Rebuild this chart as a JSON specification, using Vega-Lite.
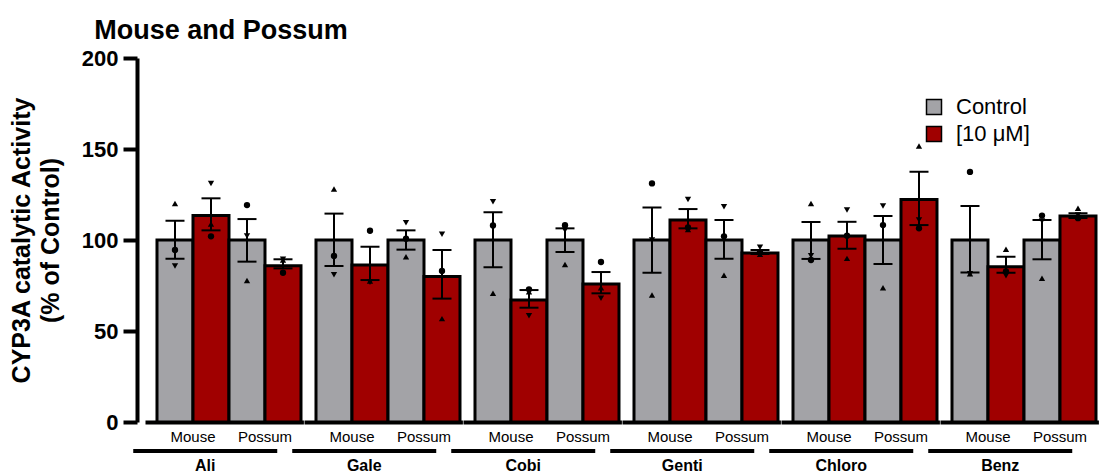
{
  "$schema": "https://vega.github.io/schema/vega-lite/v6.json",
  "background": "white",
  "padding": {"left": 9, "top": 17, "right": 0, "bottom": 0},
  "bounds": "flush",
  "spacing": 0,
  "title": {"text": "Mouse and Possum", "anchor": "start", "frame": "bounds", "dx": 85, "offset": 2, "font": "Liberation Sans", "fontSize": 27, "fontWeight": "bold", "color": "black"},
  "data": {"values": [
    {"kind": "bar", "drug": "Ali", "species": "Mouse", "treatment": "Control", "mean": 100, "lo": 89.7, "hi": 110.6},
    {"kind": "bar", "drug": "Ali", "species": "Mouse", "treatment": "[10 μM]", "mean": 113.4, "lo": 105.3, "hi": 122.9},
    {"kind": "bar", "drug": "Ali", "species": "Possum", "treatment": "Control", "mean": 100, "lo": 88.1, "hi": 111.5},
    {"kind": "bar", "drug": "Ali", "species": "Possum", "treatment": "[10 μM]", "mean": 85.9, "lo": 84.4, "hi": 89.4},
    {"kind": "bar", "drug": "Gale", "species": "Mouse", "treatment": "Control", "mean": 100, "lo": 85.7, "hi": 114.5},
    {"kind": "bar", "drug": "Gale", "species": "Mouse", "treatment": "[10 μM]", "mean": 86.3, "lo": 78, "hi": 96.3},
    {"kind": "bar", "drug": "Gale", "species": "Possum", "treatment": "Control", "mean": 100, "lo": 94.7, "hi": 105.3},
    {"kind": "bar", "drug": "Gale", "species": "Possum", "treatment": "[10 μM]", "mean": 79.9, "lo": 67.8, "hi": 94.5},
    {"kind": "bar", "drug": "Cobi", "species": "Mouse", "treatment": "Control", "mean": 100, "lo": 85, "hi": 115.2},
    {"kind": "bar", "drug": "Cobi", "species": "Mouse", "treatment": "[10 μM]", "mean": 67, "lo": 62.8, "hi": 72.5},
    {"kind": "bar", "drug": "Cobi", "species": "Possum", "treatment": "Control", "mean": 100, "lo": 93.4, "hi": 106.4},
    {"kind": "bar", "drug": "Cobi", "species": "Possum", "treatment": "[10 μM]", "mean": 75.8, "lo": 70.7, "hi": 82.4},
    {"kind": "bar", "drug": "Genti", "species": "Mouse", "treatment": "Control", "mean": 100, "lo": 82, "hi": 117.8},
    {"kind": "bar", "drug": "Genti", "species": "Mouse", "treatment": "[10 μM]", "mean": 111, "lo": 106.4, "hi": 117},
    {"kind": "bar", "drug": "Genti", "species": "Possum", "treatment": "Control", "mean": 100, "lo": 89.7, "hi": 111},
    {"kind": "bar", "drug": "Genti", "species": "Possum", "treatment": "[10 μM]", "mean": 92.9, "lo": 92.3, "hi": 94.5},
    {"kind": "bar", "drug": "Chloro", "species": "Mouse", "treatment": "Control", "mean": 100, "lo": 89.6, "hi": 109.9},
    {"kind": "bar", "drug": "Chloro", "species": "Mouse", "treatment": "[10 μM]", "mean": 102.2, "lo": 95.2, "hi": 110},
    {"kind": "bar", "drug": "Chloro", "species": "Possum", "treatment": "Control", "mean": 100, "lo": 86.8, "hi": 113.2},
    {"kind": "bar", "drug": "Chloro", "species": "Possum", "treatment": "[10 μM]", "mean": 122.3, "lo": 108.2, "hi": 137.5},
    {"kind": "bar", "drug": "Benz", "species": "Mouse", "treatment": "Control", "mean": 100, "lo": 82.2, "hi": 118.7},
    {"kind": "bar", "drug": "Benz", "species": "Mouse", "treatment": "[10 μM]", "mean": 85.3, "lo": 82, "hi": 90.8},
    {"kind": "bar", "drug": "Benz", "species": "Possum", "treatment": "Control", "mean": 100, "lo": 89.4, "hi": 111},
    {"kind": "bar", "drug": "Benz", "species": "Possum", "treatment": "[10 μM]", "mean": 113.2, "lo": 112.1, "hi": 114.7},

    {"kind": "point", "drug": "Ali", "species": "Mouse", "treatment": "Control", "rep": 1, "value": 94.5},
    {"kind": "point", "drug": "Ali", "species": "Mouse", "treatment": "Control", "rep": 2, "value": 120},
    {"kind": "point", "drug": "Ali", "species": "Mouse", "treatment": "Control", "rep": 3, "value": 85.7},
    {"kind": "point", "drug": "Ali", "species": "Mouse", "treatment": "[10 μM]", "rep": 1, "value": 102},
    {"kind": "point", "drug": "Ali", "species": "Mouse", "treatment": "[10 μM]", "rep": 2, "value": 108.8},
    {"kind": "point", "drug": "Ali", "species": "Mouse", "treatment": "[10 μM]", "rep": 3, "value": 131.1},
    {"kind": "point", "drug": "Ali", "species": "Possum", "treatment": "Control", "rep": 1, "value": 119.2},
    {"kind": "point", "drug": "Ali", "species": "Possum", "treatment": "Control", "rep": 2, "value": 77.8},
    {"kind": "point", "drug": "Ali", "species": "Possum", "treatment": "Control", "rep": 3, "value": 102.2},
    {"kind": "point", "drug": "Ali", "species": "Possum", "treatment": "[10 μM]", "rep": 1, "value": 82},
    {"kind": "point", "drug": "Ali", "species": "Possum", "treatment": "[10 μM]", "rep": 2, "value": 89},
    {"kind": "point", "drug": "Ali", "species": "Possum", "treatment": "[10 μM]", "rep": 3, "value": 89.4},
    {"kind": "point", "drug": "Gale", "species": "Mouse", "treatment": "Control", "rep": 1, "value": 91.2},
    {"kind": "point", "drug": "Gale", "species": "Mouse", "treatment": "Control", "rep": 2, "value": 128},
    {"kind": "point", "drug": "Gale", "species": "Mouse", "treatment": "Control", "rep": 3, "value": 80.9},
    {"kind": "point", "drug": "Gale", "species": "Mouse", "treatment": "[10 μM]", "rep": 1, "value": 105.1},
    {"kind": "point", "drug": "Gale", "species": "Mouse", "treatment": "[10 μM]", "rep": 2, "value": 77.5},
    {"kind": "point", "drug": "Gale", "species": "Mouse", "treatment": "[10 μM]", "rep": 3, "value": 76.8},
    {"kind": "point", "drug": "Gale", "species": "Possum", "treatment": "Control", "rep": 1, "value": 100.7},
    {"kind": "point", "drug": "Gale", "species": "Possum", "treatment": "Control", "rep": 2, "value": 90.8},
    {"kind": "point", "drug": "Gale", "species": "Possum", "treatment": "Control", "rep": 3, "value": 109.5},
    {"kind": "point", "drug": "Gale", "species": "Possum", "treatment": "[10 μM]", "rep": 1, "value": 83},
    {"kind": "point", "drug": "Gale", "species": "Possum", "treatment": "[10 μM]", "rep": 2, "value": 56.8},
    {"kind": "point", "drug": "Gale", "species": "Possum", "treatment": "[10 μM]", "rep": 3, "value": 103.1},
    {"kind": "point", "drug": "Cobi", "species": "Mouse", "treatment": "Control", "rep": 1, "value": 108},
    {"kind": "point", "drug": "Cobi", "species": "Mouse", "treatment": "Control", "rep": 2, "value": 70.7},
    {"kind": "point", "drug": "Cobi", "species": "Mouse", "treatment": "Control", "rep": 3, "value": 121},
    {"kind": "point", "drug": "Cobi", "species": "Mouse", "treatment": "[10 μM]", "rep": 1, "value": 72.9},
    {"kind": "point", "drug": "Cobi", "species": "Mouse", "treatment": "[10 μM]", "rep": 2, "value": 71.6},
    {"kind": "point", "drug": "Cobi", "species": "Mouse", "treatment": "[10 μM]", "rep": 3, "value": 58.4},
    {"kind": "point", "drug": "Cobi", "species": "Possum", "treatment": "Control", "rep": 1, "value": 108.1},
    {"kind": "point", "drug": "Cobi", "species": "Possum", "treatment": "Control", "rep": 2, "value": 86.6},
    {"kind": "point", "drug": "Cobi", "species": "Possum", "treatment": "Control", "rep": 3, "value": 105.3},
    {"kind": "point", "drug": "Cobi", "species": "Possum", "treatment": "[10 μM]", "rep": 1, "value": 87.9},
    {"kind": "point", "drug": "Cobi", "species": "Possum", "treatment": "[10 μM]", "rep": 2, "value": 73.8},
    {"kind": "point", "drug": "Cobi", "species": "Possum", "treatment": "[10 μM]", "rep": 3, "value": 68},
    {"kind": "point", "drug": "Genti", "species": "Mouse", "treatment": "Control", "rep": 1, "value": 131.1},
    {"kind": "point", "drug": "Genti", "species": "Mouse", "treatment": "Control", "rep": 2, "value": 69.8},
    {"kind": "point", "drug": "Genti", "species": "Mouse", "treatment": "Control", "rep": 3, "value": 100},
    {"kind": "point", "drug": "Genti", "species": "Mouse", "treatment": "[10 μM]", "rep": 1, "value": 106.9},
    {"kind": "point", "drug": "Genti", "species": "Mouse", "treatment": "[10 μM]", "rep": 2, "value": 105.8},
    {"kind": "point", "drug": "Genti", "species": "Mouse", "treatment": "[10 μM]", "rep": 3, "value": 122.3},
    {"kind": "point", "drug": "Genti", "species": "Possum", "treatment": "Control", "rep": 1, "value": 102},
    {"kind": "point", "drug": "Genti", "species": "Possum", "treatment": "Control", "rep": 2, "value": 80.6},
    {"kind": "point", "drug": "Genti", "species": "Possum", "treatment": "Control", "rep": 3, "value": 118.3},
    {"kind": "point", "drug": "Genti", "species": "Possum", "treatment": "[10 μM]", "rep": 1, "value": 93.4},
    {"kind": "point", "drug": "Genti", "species": "Possum", "treatment": "[10 μM]", "rep": 2, "value": 92.1},
    {"kind": "point", "drug": "Genti", "species": "Possum", "treatment": "[10 μM]", "rep": 3, "value": 96},
    {"kind": "point", "drug": "Chloro", "species": "Mouse", "treatment": "Control", "rep": 1, "value": 89},
    {"kind": "point", "drug": "Chloro", "species": "Mouse", "treatment": "Control", "rep": 2, "value": 120.1},
    {"kind": "point", "drug": "Chloro", "species": "Mouse", "treatment": "Control", "rep": 3, "value": 91.4},
    {"kind": "point", "drug": "Chloro", "species": "Mouse", "treatment": "[10 μM]", "rep": 1, "value": 102.4},
    {"kind": "point", "drug": "Chloro", "species": "Mouse", "treatment": "[10 μM]", "rep": 2, "value": 89.9},
    {"kind": "point", "drug": "Chloro", "species": "Mouse", "treatment": "[10 μM]", "rep": 3, "value": 116.5},
    {"kind": "point", "drug": "Chloro", "species": "Possum", "treatment": "Control", "rep": 1, "value": 108.2},
    {"kind": "point", "drug": "Chloro", "species": "Possum", "treatment": "Control", "rep": 2, "value": 73.8},
    {"kind": "point", "drug": "Chloro", "species": "Possum", "treatment": "Control", "rep": 3, "value": 118.7},
    {"kind": "point", "drug": "Chloro", "species": "Possum", "treatment": "[10 μM]", "rep": 1, "value": 106.4},
    {"kind": "point", "drug": "Chloro", "species": "Possum", "treatment": "[10 μM]", "rep": 2, "value": 151.6},
    {"kind": "point", "drug": "Chloro", "species": "Possum", "treatment": "[10 μM]", "rep": 3, "value": 111},
    {"kind": "point", "drug": "Benz", "species": "Mouse", "treatment": "Control", "rep": 1, "value": 137.4},
    {"kind": "point", "drug": "Benz", "species": "Mouse", "treatment": "Control", "rep": 2, "value": 81.5},
    {"kind": "point", "drug": "Benz", "species": "Mouse", "treatment": "Control", "rep": 3, "value": 81.5},
    {"kind": "point", "drug": "Benz", "species": "Mouse", "treatment": "[10 μM]", "rep": 1, "value": 82.8},
    {"kind": "point", "drug": "Benz", "species": "Mouse", "treatment": "[10 μM]", "rep": 2, "value": 94.9},
    {"kind": "point", "drug": "Benz", "species": "Mouse", "treatment": "[10 μM]", "rep": 3, "value": 80.4},
    {"kind": "point", "drug": "Benz", "species": "Possum", "treatment": "Control", "rep": 1, "value": 113.4},
    {"kind": "point", "drug": "Benz", "species": "Possum", "treatment": "Control", "rep": 2, "value": 79},
    {"kind": "point", "drug": "Benz", "species": "Possum", "treatment": "Control", "rep": 3, "value": 110.4},
    {"kind": "point", "drug": "Benz", "species": "Possum", "treatment": "[10 μM]", "rep": 1, "value": 112},
    {"kind": "point", "drug": "Benz", "species": "Possum", "treatment": "[10 μM]", "rep": 2, "value": 117.4},
    {"kind": "point", "drug": "Benz", "species": "Possum", "treatment": "[10 μM]", "rep": 3, "value": 113.7}
  ]},
  "facet": {"column": {"field": "drug", "type": "nominal", "sort": ["Ali", "Gale", "Cobi", "Genti", "Chloro", "Benz"], "header": {"labels": false, "title": null}}},
  "spec": {
    "width": 158.4,
    "height": 364,
    "layer": [
      {
        "transform": [{"filter": "datum.kind === 'bar'"}],
        "mark": {"type": "bar", "stroke": "black", "strokeWidth": 3},
        "encoding": {
          "x": {"field": "species", "type": "nominal", "scale": {"domain": ["Mouse", "Possum"], "paddingInner": 0, "paddingOuter": 0.1, "align": 0.833},
            "axis": {"title": null, "labelFontSize": 15, "labelFont": "Liberation Sans", "labelColor": "black", "labelPadding": 7, "labelAngle": 0, "ticks": false, "domainWidth": 4, "domainColor": "black"}},
          "xOffset": {"field": "treatment", "type": "nominal", "scale": {"domain": ["Control", "[10 μM]"], "paddingInner": 0, "paddingOuter": 0}},
          "y": {"field": "mean", "type": "quantitative", "scale": {"domain": [0, 200], "nice": false},
            "axis": {"values": [0, 50, 100, 150, 200], "title": ["CYP3A catalytic Activity", "(% of Control)"], "titleFont": "Liberation Sans", "titleFontSize": 25, "titleLineHeight": 29, "titleFontWeight": "bold", "titleColor": "black", "titlePadding": 18,
              "labelFont": "Liberation Sans", "labelFontSize": 22, "labelFontWeight": "bold", "labelColor": "black", "labelPadding": 5,
              "domainWidth": 4, "domainColor": "black", "tickWidth": 4, "tickSize": 14, "tickColor": "black", "grid": false, "offset": 8}},
          "color": {"field": "treatment", "type": "nominal", "scale": {"domain": ["Control", "[10 μM]"], "range": ["#a3a3a7", "#a00000"]},
            "legend": {"title": null, "orient": "none", "legendX": 778, "legendY": 38, "symbolType": "square", "symbolSize": 225, "labelFontSize": 22, "labelFont": "Liberation Sans", "labelColor": "black", "rowPadding": 5, "labelOffset": 11,
              "encode": {"symbols": {"update": {"fill": {"signal": "datum.value === 'Control' ? '#6e6e6e' : '#a00000'"}, "stroke": {"value": "transparent"}, "strokeWidth": {"value": 0}}}}}}
        }
      },
      {
        "transform": [{"filter": "datum.kind === 'bar'"}],
        "mark": {"type": "rule", "color": "black", "strokeWidth": 2},
        "encoding": {
          "x": {"field": "species", "type": "nominal"},
          "xOffset": {"field": "treatment", "type": "nominal"},
          "y": {"field": "lo", "type": "quantitative"},
          "y2": {"field": "hi"}
        }
      },
      {
        "transform": [{"filter": "datum.kind === 'bar'"}],
        "mark": {"type": "tick", "color": "black", "thickness": 2, "size": 19, "opacity": 1},
        "encoding": {
          "x": {"field": "species", "type": "nominal"},
          "xOffset": {"field": "treatment", "type": "nominal"},
          "y": {"field": "hi", "type": "quantitative"}
        }
      },
      {
        "transform": [{"filter": "datum.kind === 'bar'"}],
        "mark": {"type": "tick", "color": "black", "thickness": 2, "size": 19, "opacity": 1},
        "encoding": {
          "x": {"field": "species", "type": "nominal"},
          "xOffset": {"field": "treatment", "type": "nominal"},
          "y": {"field": "lo", "type": "quantitative"}
        }
      },
      {
        "transform": [{"filter": "datum.kind === 'point'"}],
        "mark": {"type": "point", "filled": true, "color": "black", "size": 40, "opacity": 1},
        "encoding": {
          "x": {"field": "species", "type": "nominal"},
          "xOffset": {"field": "treatment", "type": "nominal"},
          "y": {"field": "value", "type": "quantitative"},
          "shape": {"field": "rep", "type": "nominal", "scale": {"domain": [1, 2, 3], "range": ["circle", "triangle-up", "triangle-down"]}, "legend": null}
        }
      },
      {
        "transform": [{"filter": "datum.kind === 'bar' && datum.species === 'Mouse' && datum.treatment === 'Control'"}],
        "mark": {"type": "rule", "color": "black", "strokeWidth": 4},
        "encoding": {
          "x": {"datum": "Mouse", "type": "nominal", "bandPosition": -0.33},
          "x2": {"datum": "Possum", "bandPosition": 0.67},
          "y": {"datum": -16, "type": "quantitative"}
        }
      },
      {
        "transform": [{"filter": "datum.kind === 'bar' && datum.species === 'Mouse' && datum.treatment === 'Control'"}],
        "mark": {"type": "text", "font": "Liberation Sans", "fontSize": 16, "fontWeight": "bold", "color": "black", "baseline": "middle", "align": "center"},
        "encoding": {
          "x": {"datum": "Possum", "type": "nominal", "bandPosition": -0.33},
          "y": {"datum": -24, "type": "quantitative"},
          "text": {"field": "drug"}
        }
      }
    ]
  },
  "config": {
    "view": {"stroke": null}
  }
}
